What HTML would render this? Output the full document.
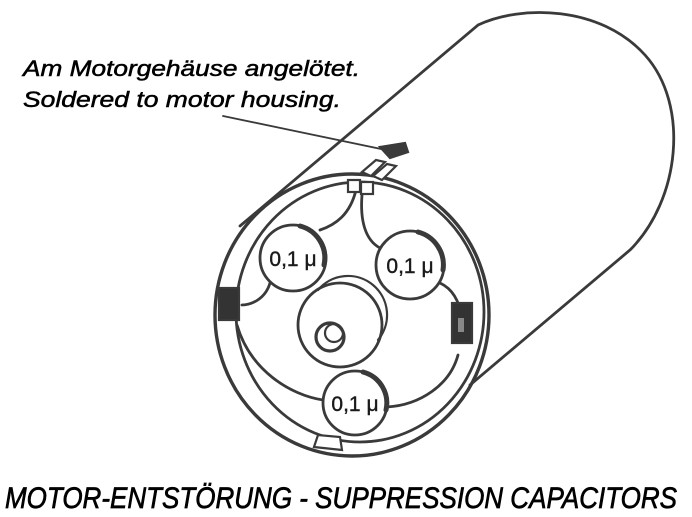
<!DOCTYPE html>
<html><head><meta charset="utf-8"><style>
html,body{margin:0;padding:0;background:#fff;width:692px;height:517px;overflow:hidden}
</style></head><body>
<svg width="692" height="517" viewBox="0 0 692 517" xmlns="http://www.w3.org/2000/svg">
<g fill="none" stroke="#3a3a3a" stroke-width="2.8" stroke-linecap="round">
<!-- cylinder body -->
<path d="M240 226 L478 25 C520 5 600 5 645 55 C690 105 680 200 630 250 L470 385"/>
<!-- front end rings -->
<ellipse cx="352" cy="315" rx="137" ry="141" stroke-width="3.4"/>
<ellipse cx="360" cy="312" rx="124" ry="130" stroke-width="2.8"/>
<!-- leader line -->
<line x1="223" y1="116" x2="386" y2="150" stroke-width="1.8"/>
<!-- capacitors -->
<circle cx="293" cy="258" r="33" fill="#fff"/>
<path d="M300 226 A33 33 0 0 1 324 265" stroke-width="5"/>
<circle cx="410" cy="265" r="34" fill="#fff"/>
<path d="M418 232 A34 34 0 0 1 443 270" stroke-width="5"/>
<circle cx="355" cy="403" r="32" fill="#fff"/>
<path d="M363 372 A32 32 0 0 1 386 410" stroke-width="5"/>
<!-- central bearing -->
<circle cx="340" cy="325" r="42"/>
<path d="M318 290 A38 38 0 0 1 378 340" stroke-width="2.2"/>
<circle cx="330" cy="337" r="14" stroke-width="3.2"/>
<circle cx="334" cy="333" r="9" stroke-width="2.2"/>
<!-- wires -->
<path d="M356 190 C350 215 335 225 320 230"/>
<path d="M362 195 C360 220 365 240 380 248"/>
<path d="M270 283 C265 300 250 305 242 305"/>
<path d="M440 283 C455 290 460 305 462 318"/>
<path d="M237 325 C250 370 290 395 323 400"/>
<path d="M387 407 C420 405 450 385 458 355"/>
</g>
<!-- connectors -->
<g stroke="#3a3a3a" stroke-width="2.2">
<path d="M380 147 L405 143 L408 152 L390 158 Z" fill="#3a3a3a"/>
<path d="M362 172 L376 160 L385 162 L371 176 Z" fill="#fff"/>
<path d="M373 176 L387 164 L396 166 L382 180 Z" fill="#fff"/>
<rect x="348" y="180" width="12" height="12" fill="#fff"/>
<rect x="361" y="182" width="12" height="12" fill="#fff"/>
<rect x="219" y="288" width="20" height="32" fill="#333"/>
<rect x="452" y="303" width="20" height="40" fill="#333"/>
<rect x="458" y="318" width="6" height="14" fill="#888" stroke="none"/>
<path d="M314 447 L318 435 L340 437 L342 450 Z" fill="#fff"/>
</g>
<g font-family="'Liberation Sans', sans-serif" fill="#1a1a1a">
<text x="293" y="266" font-size="21" text-anchor="middle" stroke="#1a1a1a" stroke-width="0.4">0,1 μ</text>
<text x="410" y="273" font-size="21" text-anchor="middle" stroke="#1a1a1a" stroke-width="0.4">0,1 μ</text>
<text x="355" y="411" font-size="21" text-anchor="middle" stroke="#1a1a1a" stroke-width="0.4">0,1 μ</text>
<text x="23" y="76" font-size="22" font-style="italic" fill="#000" stroke="#000" stroke-width="0.5" textLength="337" lengthAdjust="spacingAndGlyphs">Am Motorgehäuse angelötet.</text>
<text x="23" y="107" font-size="22" font-style="italic" fill="#000" stroke="#000" stroke-width="0.5" textLength="318" lengthAdjust="spacingAndGlyphs">Soldered to motor housing.</text>
<text x="5" y="508" font-size="30" font-style="italic" fill="#000" stroke="#000" stroke-width="0.7" textLength="672" lengthAdjust="spacingAndGlyphs">MOTOR-ENTSTÖRUNG - SUPPRESSION CAPACITORS</text>
</g>
</svg>
</body></html>
